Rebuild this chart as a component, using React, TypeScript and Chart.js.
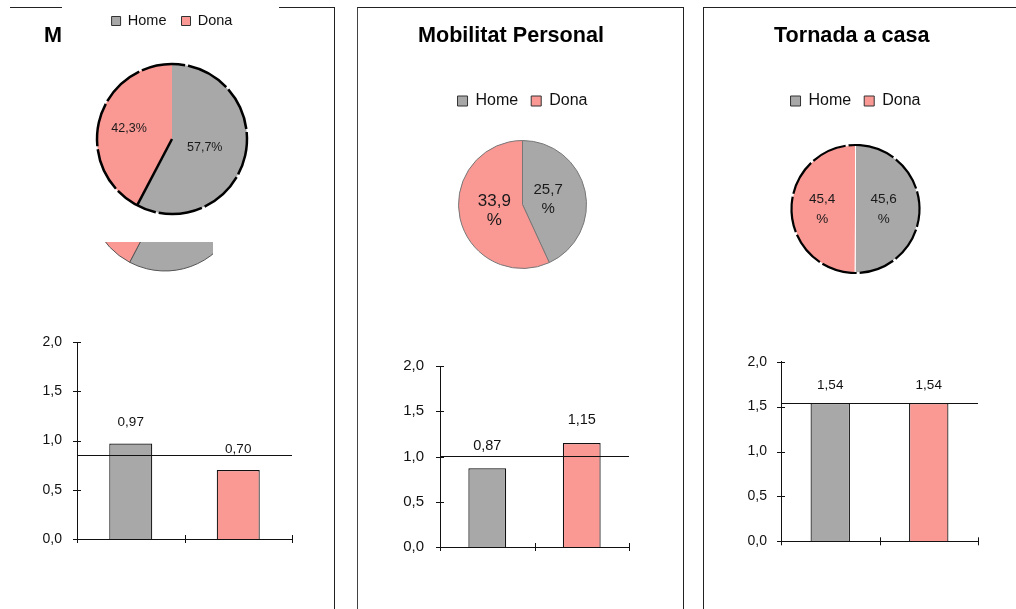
import React, { useEffect, useRef } from 'react';
import { Chart, registerables } from 'chart.js';

Chart.register(...registerables);
Chart.defaults.font.family = '"Liberation Sans", Arial, Helvetica, sans-serif';
Chart.defaults.color = '#111';

// ---------- data ----------
const sexes = ['Home', 'Dona'];
const panelTitles = ['M', 'Mobilitat Personal', 'Tornada a casa'];
const piePct1 = [57.7, 42.3];
const piePct2 = [25.7, 33.9];
const piePct3 = [45.6, 45.4];
const barVals1 = [0.97, 0.7];
const barVals2 = [0.87, 1.15];
const barVals3 = [1.54, 1.54];
const barAverages = [0.85, 1.01, 1.54];
const yTicks = [0, 0.5, 1.0, 1.5, 2.0];
const sexColors = ['#a8a8a8', '#fa9894'];

const FONT = '"Liberation Sans", Arial, Helvetica, sans-serif';
const fmt = (v: number, d: number) => v.toFixed(d).replace('.', ',');

// ---------- plugins ----------
const pieOutlinePlugin = {
  id: 'pieOutline',
  afterDatasetsDraw(chart: any, _a: any, opts: any) {
    if (!opts || !opts.show) return;
    const arcs = chart.getDatasetMeta(0).data;
    if (!arcs.length) return;
    const { x, y, outerRadius } = arcs[0].getProps(['x', 'y', 'outerRadius'], true);
    const ctx = chart.ctx;
    ctx.save();
    ctx.strokeStyle = opts.color;
    ctx.lineWidth = opts.width;
    ctx.setLineDash(opts.dash);
    ctx.beginPath();
    ctx.arc(x, y, outerRadius, opts.startAngle, opts.startAngle + Math.PI * 2);
    ctx.stroke();
    if (opts.edge !== undefined && opts.edge !== null) {
      const a = arcs[opts.edge].getProps(['startAngle'], true).startAngle;
      ctx.setLineDash([]);
      ctx.lineWidth = opts.edgeWidth;
      ctx.beginPath();
      ctx.moveTo(x, y);
      ctx.lineTo(x + Math.cos(a) * outerRadius, y + Math.sin(a) * outerRadius);
      ctx.stroke();
    }
    ctx.restore();
  },
};

const pieLabelPlugin = {
  id: 'pieLabels',
  afterDatasetsDraw(chart: any, _a: any, opts: any) {
    if (!opts || !opts.show) return;
    const ctx = chart.ctx;
    const data = chart.data.datasets[0].data;
    chart.getDatasetMeta(0).data.forEach((arc: any, i: number) => {
      const p = arc.getProps(['x', 'y', 'startAngle', 'endAngle', 'outerRadius'], true);
      const mid = (p.startAngle + p.endAngle) / 2;
      const r = p.outerRadius * opts.factors[i];
      const cx = p.x + Math.cos(mid) * r;
      const cy = p.y + Math.sin(mid) * r;
      const txt = fmt(data[i], 1);
      ctx.save();
      ctx.font = `${opts.sizes[i]}px ${FONT}`;
      ctx.fillStyle = '#1a1a1a';
      ctx.textAlign = 'center';
      ctx.textBaseline = 'middle';
      if (opts.stacked) {
        ctx.fillText(txt, cx, cy - opts.gap / 2);
        ctx.fillText('%', cx, cy + opts.gap / 2);
      } else {
        ctx.fillText(txt + '%', cx, cy);
      }
      ctx.restore();
    });
  },
};

const barDecoPlugin = {
  id: 'barDeco',
  afterDatasetsDraw(chart: any, _a: any, opts: any) {
    const { ctx, chartArea } = chart;
    const ys = chart.scales.y;
    const line = (x1: number, y1: number, x2: number, y2: number) => {
      ctx.beginPath();
      ctx.moveTo(x1, y1);
      ctx.lineTo(x2, y2);
      ctx.stroke();
    };
    ctx.save();
    ctx.strokeStyle = '#111';
    ctx.lineWidth = 1;
    ys.ticks.forEach((_t: any, i: number) => {
      const py = Math.round(ys.getPixelForTick(i)) + 0.5;
      line(chartArea.left - 4, py, chartArea.left + 4, py);
    });
    const n = chart.data.labels.length;
    for (let i = 0; i <= n; i++) {
      const px = Math.round(chartArea.left + ((chartArea.right - chartArea.left) * i) / n) + 0.5;
      line(px, chartArea.bottom - 4, px, chartArea.bottom + 4);
    }
    const ay = Math.round(ys.getPixelForValue(opts.avg)) + 0.5;
    line(chartArea.left, ay, chartArea.right, ay);
    ctx.font = `${opts.fontSize}px ${FONT}`;
    ctx.fillStyle = '#111';
    ctx.textAlign = 'center';
    ctx.textBaseline = 'middle';
    const vals = chart.data.datasets[0].data;
    chart.getDatasetMeta(0).data.forEach((bar: any, i: number) => {
      ctx.fillText(fmt(vals[i], 2), bar.x, bar.y - opts.offset);
    });
    ctx.restore();
  },
};

// ---------- config builders ----------
const legendItems = (chart: any) =>
  chart.data.labels.map((t: string, i: number) => ({
    text: t,
    fillStyle: sexColors[i],
    strokeStyle: '#333',
    lineWidth: 1,
    hidden: false,
    index: i,
    fontColor: '#111',
  }));

function pieConfig(vals: number[], o: any) {
  return {
    type: 'pie',
    data: {
      labels: sexes,
      datasets: [
        {
          data: vals,
          backgroundColor: sexColors,
          borderColor: o.borderColor,
          borderWidth: o.borderWidth,
          radius: o.radius,
        },
      ],
    },
    options: {
      animation: false,
      responsive: false,
      events: [],
      layout: { padding: o.padding },
      plugins: {
        tooltip: { enabled: false },
        legend: o.legend
          ? {
              display: true,
              position: 'top',
              weight: o.legendWeight,
              labels: {
                font: { size: o.legendSize },
                boxWidth: o.box,
                boxHeight: o.box,
                padding: o.legendPad,
                color: '#111',
                generateLabels: legendItems,
              },
            }
          : { display: false },
        title: o.title
          ? {
              display: true,
              text: o.title,
              align: 'start',
              color: '#000',
              font: { size: 21.6, weight: 'bold' },
              padding: o.titlePad,
            }
          : { display: false },
        pieOutline: o.outline || { show: false },
        pieLabels: o.labels || { show: false },
      },
    },
    plugins: [pieOutlinePlugin, pieLabelPlugin],
  };
}

function barConfig(vals: number[], avg: number, o: any) {
  return {
    type: 'bar',
    data: {
      labels: sexes,
      datasets: [
        {
          data: vals,
          backgroundColor: sexColors,
          borderColor: '#111',
          borderWidth: 1.2,
          barPercentage: 0.4,
          categoryPercentage: 1,
        },
      ],
    },
    options: {
      animation: false,
      responsive: false,
      events: [],
      layout: { padding: { left: 0, top: o.padTop, right: o.padRight, bottom: o.padBottom } },
      plugins: {
        legend: { display: false },
        tooltip: { enabled: false },
        barDeco: { avg, offset: o.labelOffset, fontSize: o.labelSize },
      },
      scales: {
        x: {
          ticks: { display: false },
          grid: { display: false, drawTicks: false },
          border: { display: true, color: '#111', width: 1 },
          afterFit: (s: any) => {
            s.height = 10;
          },
        },
        y: {
          min: 0,
          max: 2,
          afterBuildTicks: (s: any) => {
            s.ticks = yTicks.map((v) => ({ value: v }));
          },
          ticks: {
            callback: (v: any) => fmt(Number(v), 1),
            font: { size: o.tickSize },
            color: '#111',
            padding: o.tickPad,
          },
          grid: { display: false, drawTicks: false },
          border: { display: true, color: '#111', width: 1 },
          afterFit: (s: any) => {
            s.width = o.axisWidth;
          },
        },
      },
    },
    plugins: [barDecoPlugin],
  };
}

// ---------- components ----------
function ChartBox(props: { left: number; top: number; width: number; height: number; make: () => any }) {
  const ref = useRef<HTMLCanvasElement>(null);
  useEffect(() => {
    const chart = new Chart(ref.current as HTMLCanvasElement, props.make());
    return () => chart.destroy();
  }, []);
  return (
    <canvas
      ref={ref}
      width={props.width}
      height={props.height}
      style={{ position: 'absolute', left: props.left, top: props.top, width: props.width, height: props.height }}
    />
  );
}

const lineStyle = (s: React.CSSProperties): React.CSSProperties => ({ position: 'absolute', boxSizing: 'border-box', ...s });
const B = '1.5px solid #222';

export default function App() {
  return (
    <div
      style={{
        position: 'absolute',
        left: 0,
        top: 0,
        width: 1016,
        height: 609,
        overflow: 'hidden',
        background: '#fff',
      }}
    >
      {/* panel frames */}
      <div style={lineStyle({ left: 10, top: 7, width: 52, height: 2, borderTop: B })} />
      <div style={lineStyle({ left: 279, top: 7, width: 56, height: 2, borderTop: B })} />
      <div style={lineStyle({ left: 334, top: 7, width: 2, height: 610, borderLeft: B })} />
      <div style={lineStyle({ left: 357, top: 7, width: 327, height: 610, borderLeft: '1.5px solid #444', borderTop: B, borderRight: B })} />
      <div style={lineStyle({ left: 703, top: 7, width: 330, height: 610, borderLeft: B, borderTop: B })} />

      {/* panel 1 */}
      <ChartBox
        left={44}
        top={-10}
        width={256}
        height={250}
        make={() =>
          pieConfig(piePct1, {
            borderColor: '#fff',
            borderWidth: 0,
            radius: 75,
            padding: { top: 8.75, bottom: 10.97, left: 0, right: 0 },
            legend: true,
            legendWeight: 3000,
            legendSize: 14.5,
            box: 9,
            legendPad: 15,
            title: panelTitles[0],
            titlePad: { top: -15.2, bottom: 0 },
            outline: { show: true, color: '#000', width: 2.5, dash: [44, 3], startAngle: -1.35, edge: 1, edgeWidth: 2.5 },
            labels: { show: true, factors: [0.45, 0.59], sizes: [12.5, 12.5], stacked: false, gap: 0 },
          })
        }
      />
      <div style={{ position: 'absolute', left: 100, top: 242, width: 113, height: 30, overflow: 'hidden' }}>
        <ChartBox
          left={-15}
          top={-127}
          width={160}
          height={160}
          make={() =>
            pieConfig(piePct1, {
              borderColor: '#555',
              borderWidth: 1,
              radius: 76,
              padding: 0,
              legend: false,
              title: null,
            })
          }
        />
      </div>
      <ChartBox
        left={0}
        top={300}
        width={320}
        height={270}
        make={() =>
          barConfig(barVals1, barAverages[0], {
            padTop: 42,
            padRight: 28,
            padBottom: 21,
            axisWidth: 77,
            tickPad: 15,
            tickSize: 14,
            labelSize: 13.5,
            labelOffset: 21,
          })
        }
      />

      {/* panel 2 */}
      <ChartBox
        left={418}
        top={0}
        width={209}
        height={300}
        make={() =>
          pieConfig(piePct2, {
            borderColor: '#777',
            borderWidth: 1,
            radius: 64,
            padding: { top: 13.04, bottom: 10, left: 0, right: 0 },
            legend: true,
            legendWeight: 1000,
            legendSize: 16,
            box: 10,
            legendPad: 13,
            title: panelTitles[1],
            titlePad: { top: 10, bottom: 31.04 },
            labels: { show: true, factors: [0.41, 0.45], sizes: [15, 17], stacked: true, gap: 19 },
          })
        }
      />
      <ChartBox
        left={340}
        top={320}
        width={320}
        height={260}
        make={() =>
          barConfig(barVals2, barAverages[1], {
            padTop: 46,
            padRight: 31,
            padBottom: 23,
            axisWidth: 100,
            tickPad: 16,
            tickSize: 15,
            labelSize: 14.5,
            labelOffset: 22.5,
          })
        }
      />

      {/* panel 3 */}
      <ChartBox
        left={774}
        top={0}
        width={163}
        height={310}
        make={() =>
          pieConfig(piePct3, {
            borderColor: '#fff',
            borderWidth: 1,
            radius: 64,
            padding: { top: 13.04, bottom: 11, left: 0, right: 0 },
            legend: true,
            legendWeight: 1000,
            legendSize: 16,
            box: 10,
            legendPad: 13,
            title: panelTitles[2],
            titlePad: { top: 10, bottom: 31.04 },
            outline: { show: true, color: '#000', width: 2.2, dash: [36, 3], startAngle: -1.5, edge: null, edgeWidth: 0 },
            labels: { show: true, factors: [0.44, 0.52], sizes: [13.5, 13.5], stacked: true, gap: 20 },
          })
        }
      />
      <ChartBox
        left={690}
        top={320}
        width={320}
        height={260}
        make={() =>
          barConfig(barVals3, barAverages[2], {
            padTop: 41.7,
            padRight: 32,
            padBottom: 28.7,
            axisWidth: 91,
            tickPad: 14,
            tickSize: 14,
            labelSize: 13.5,
            labelOffset: 18,
          })
        }
      />
    </div>
  );
}
